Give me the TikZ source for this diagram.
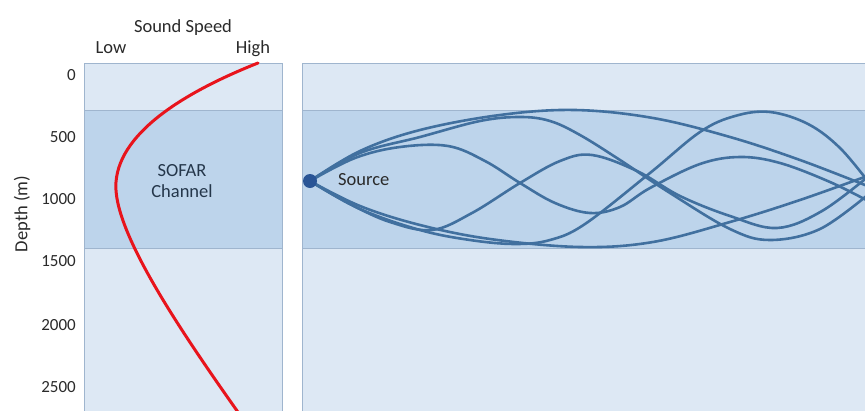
\documentclass[tikz,border=0pt]{standalone}
\usepackage{fontspec}
\setmainfont{Carlito}
\definecolor{panelbg}{HTML}{DDE8F4}
\definecolor{bandbg}{HTML}{BDD4EB}
\definecolor{panelline}{HTML}{9FB5CE}
\definecolor{raycol}{HTML}{41709F}
\definecolor{srccol}{HTML}{2A5596}
\definecolor{redcurve}{HTML}{E8141C}
\definecolor{txt}{HTML}{2A2A2A}
\definecolor{sofartxt}{HTML}{24364A}
\tikzset{
  lbl/.style={font=\fontsize{18.5}{21}\selectfont, text=txt, inner sep=0pt},
  tick/.style={font=\fontsize{17}{20}\selectfont, text=txt, inner sep=0pt, anchor=east},
  panel/.style={fill=panelbg, draw=panelline, line width=1pt},
  band/.style={fill=bandbg, draw=panelline, line width=1pt},
  ray/.style={draw=raycol, line width=2.6pt, line cap=round, smooth, tension=0.6},
}
\begin{document}
\begin{tikzpicture}[x=1pt,y=-1pt]
\useasboundingbox (0,0) rectangle (865,410);
\fill[white] (0,0) rectangle (865,410);
\begin{scope}
\clip (0,0) rectangle (865,410);
% panels
\path[panel] (84,63) rectangle (282,420);
\path[band] (84,110) rectangle (282,248);
\path[panel] (302,63) rectangle (880,420);
\path[band] (302,110) rectangle (880,248);
% sound speed profile
\draw[redcurve, line width=3pt, line cap=round] (258,63) .. controls (190,90) and (120,130) .. (116,182) .. controls (112,230) and (180,330) .. (240,415);
% rays
\draw[ray] plot coordinates {(310,181) (360,151) (420,130) (500,115) (575,110) (653,118) (730,137) (800,160) (870,187)};
\draw[ray] plot coordinates {(310,181) (360,153) (420,137) (480,121) (520,117) (550,121) (580,135) (620,160) (670,193) (730,229) (770,240) (820,229) (870,193)};
\draw[ray] plot coordinates {(310,181) (355,158) (400,147) (448,146) (485,161) (520,183) (555,203) (590,213) (620,207) (650,188) (700,164) (740,157) (780,163) (830,182) (870,202)};
\draw[ray] plot coordinates {(310,181) (350,204) (390,222) (432,230) (472,213) (520,183) (560,161) (592,155) (637,171) (680,196) (730,216) (777,228) (822,211) (870,175)};
\draw[ray] plot coordinates {(310,181) (360,209) (420,230) (470,240) (515,244) (550,240) (585,224) (650,173) (700,132) (735,116) (770,112) (808,124) (840,148) (870,184)};
\draw[ray] plot coordinates {(310,181) (360,206) (420,225) (490,239) (580,247) (653,242) (730,222) (800,200) (870,175)};
\end{scope}
% source
\node[circle, fill=srccol, minimum size=14pt, inner sep=0pt] (src) at (310,181) {};
\node[lbl, anchor=west] (srclbl) at (338,180) {Source};
% labels
\node[lbl, anchor=base] (title) at (183,32) {Sound Speed};
\node[lbl, anchor=base] (low) at (111,53) {Low};
\node[lbl, anchor=base] (high) at (253,53) {High};
\node[lbl, text=sofartxt, align=center] (sofar) at (182,181.5) {SOFAR\\Channel};
\node[lbl, rotate=90] (depth) at (22,214) {Depth (m)};
\node[tick] (t0) at (76,75) {0};
\node[tick] (t500) at (76,137) {500};
\node[tick] (t1000) at (76,199) {1000};
\node[tick] (t1500) at (76,261) {1500};
\node[tick] (t2000) at (76,325) {2000};
\node[tick] (t2500) at (76,387) {2500};
\end{tikzpicture}
\end{document}
